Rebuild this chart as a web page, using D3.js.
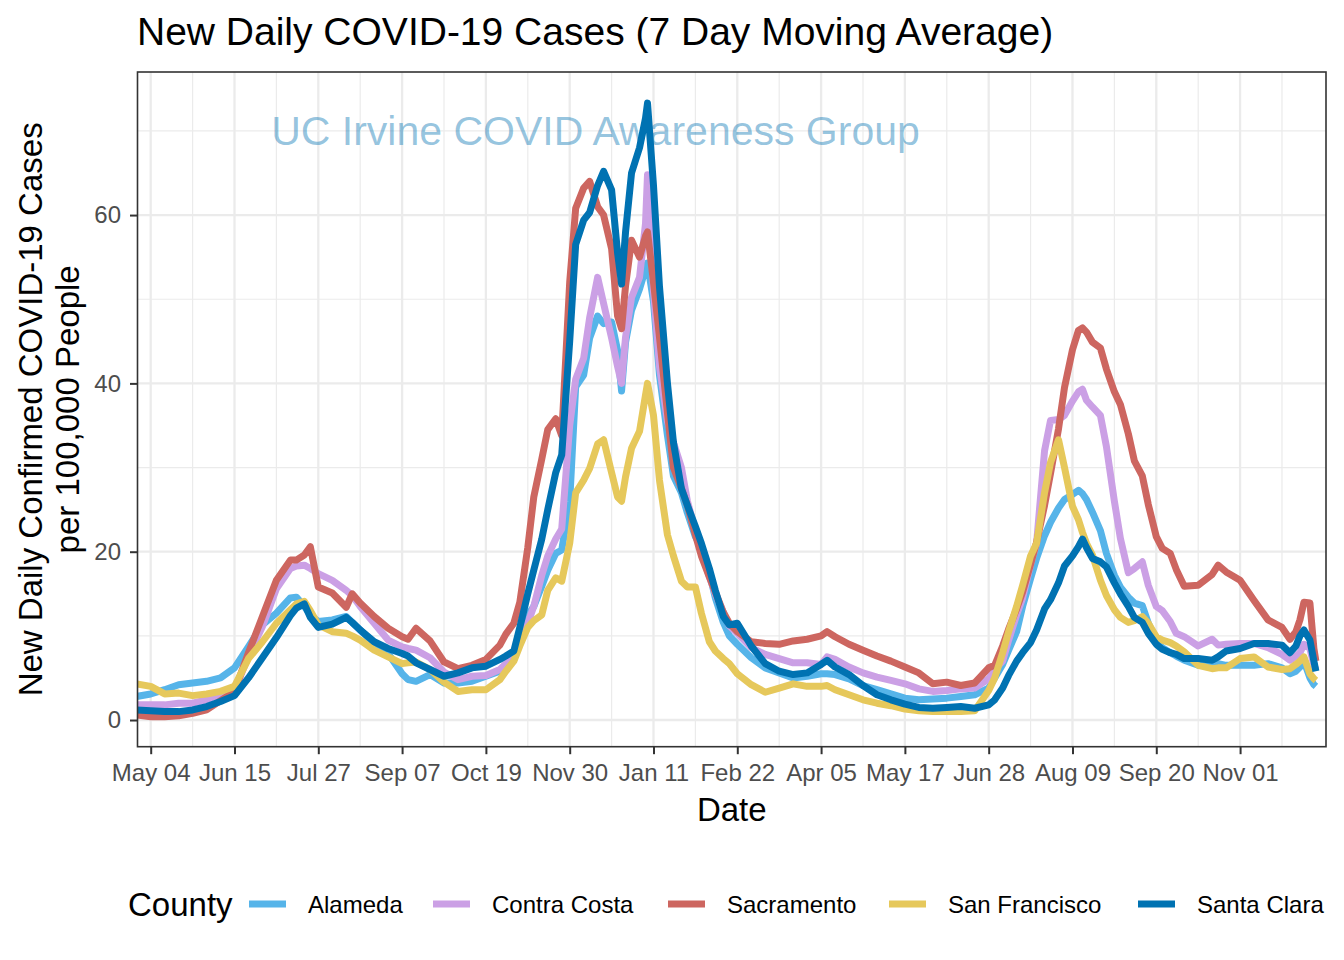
<!DOCTYPE html>
<html>
<head>
<meta charset="utf-8">
<script src="https://cdn.jsdelivr.net/npm/d3@7"></script>
<style>
  body { margin: 0; background: #ffffff; }
  svg { display: block; }
  text { font-family: "Liberation Sans", Arial, Helvetica, sans-serif; }
</style>
</head>
<body>
<svg id="chart" width="1344" height="960"></svg>
<script>
// ---------------- DATA ----------------
const dates = [
"2020-04-27","2020-05-04","2020-05-11","2020-05-18","2020-05-25","2020-06-01","2020-06-08","2020-06-15","2020-06-22","2020-06-29",
"2020-07-06","2020-07-13","2020-07-16","2020-07-20","2020-07-23","2020-07-27","2020-08-03","2020-08-10","2020-08-13","2020-08-17",
"2020-08-24","2020-08-31","2020-09-07","2020-09-10","2020-09-14","2020-09-21","2020-09-28","2020-10-05","2020-10-12","2020-10-19",
"2020-10-26","2020-10-29","2020-11-02","2020-11-05","2020-11-09","2020-11-12","2020-11-16","2020-11-19","2020-11-23","2020-11-26",
"2020-11-30","2020-12-03","2020-12-07","2020-12-10","2020-12-14","2020-12-17","2020-12-21","2020-12-24","2020-12-26","2020-12-28",
"2020-12-31","2021-01-04","2021-01-07","2021-01-08","2021-01-11","2021-01-14","2021-01-18","2021-01-21","2021-01-25","2021-01-28",
"2021-02-01","2021-02-04","2021-02-08","2021-02-11","2021-02-15","2021-02-18","2021-02-22","2021-03-01","2021-03-08","2021-03-15",
"2021-03-22","2021-03-29","2021-04-05","2021-04-08","2021-04-12","2021-04-19","2021-04-26","2021-05-03","2021-05-10","2021-05-17",
"2021-05-24","2021-05-31","2021-06-07","2021-06-14","2021-06-21","2021-06-28","2021-07-01","2021-07-05","2021-07-08","2021-07-12",
"2021-07-15","2021-07-19","2021-07-22","2021-07-26","2021-07-29","2021-08-02","2021-08-05","2021-08-09","2021-08-12","2021-08-14",
"2021-08-16","2021-08-19","2021-08-23","2021-08-26","2021-08-30","2021-09-02","2021-09-06","2021-09-09","2021-09-13","2021-09-16",
"2021-09-20","2021-09-23","2021-09-27","2021-09-30","2021-10-04","2021-10-11","2021-10-18","2021-10-21","2021-10-25","2021-11-01",
"2021-11-08","2021-11-15","2021-11-22","2021-11-26","2021-11-29","2021-12-01","2021-12-03","2021-12-06","2021-12-08","2021-12-09"
];

const counties = ["Alameda", "Contra Costa", "Sacramento", "San Francisco", "Santa Clara"];
const countyColors = ["#56B4E9", "#CBA0E5", "#CD6660", "#E6C85B", "#0072B2"];

const alameda = [
2.8, 3.1, 3.6, 4.2, 4.4, 4.6, 5.0, 6.2, 8.7, 11.3,
12.7, 14.5, 14.6, 13.5, 12.5, 11.7, 11.9, 12.3, 11.6, 10.7,
9.1, 7.9, 5.5, 4.8, 4.6, 5.4, 4.4, 4.4, 4.6, 5.2,
5.8, 6.4, 7.2, 9.6, 12.5, 13.5, 15.9, 17.8, 19.8, 20.2,
26.0, 39.6, 41.0, 45.4, 48.0, 47.1, 47.3, 43.9, 39.1, 44.9,
48.7, 51.2, 53.6, 54.3, 49.7, 41.0, 33.8, 29.0, 27.0, 24.6,
21.8, 20.5, 17.5, 14.5, 11.6, 10.0, 9.0, 7.4, 6.2, 5.6,
5.0, 5.2, 5.5, 5.5, 5.4, 4.9, 4.1, 3.6, 3.1, 2.6,
2.4, 2.5, 2.6, 2.8, 3.0, 3.8, 5.0, 6.6, 8.3, 10.5,
13.5, 16.8, 19.2, 21.9, 23.5, 25.2, 26.2, 26.8, 27.3, 26.9,
26.2, 24.7, 22.5, 19.8, 17.2, 15.8, 14.6, 13.9, 13.6, 11.5,
9.3, 8.6, 8.0, 7.6, 7.1, 6.5, 6.6, 6.7, 6.5, 6.5,
6.5, 6.7, 6.2, 5.5, 5.8, 6.3, 7.0, 5.0, 4.2, 4.0
];

const contraCosta = [
1.8, 1.8, 1.8, 2.0, 2.0, 2.4, 3.1, 3.4, 7.6, 11.1,
15.6, 18.0, 18.3, 18.4, 18.0, 17.4, 16.6, 15.4, 14.8, 13.5,
11.5, 9.5, 8.7, 8.5, 8.3, 7.4, 5.7, 4.8, 5.2, 5.3,
6.0, 6.7, 7.7, 9.5, 11.5, 13.5, 17.2, 19.5, 21.5, 22.7,
35.0, 40.5, 43.0, 47.8, 52.6, 49.5, 45.4, 42.0, 40.0, 45.5,
50.2, 52.6, 59.0, 64.8, 51.0, 42.0, 35.5, 33.0, 30.0, 26.0,
22.5, 20.0, 17.0, 15.0, 12.8, 11.2, 10.3, 8.6, 7.8, 7.3,
6.8, 6.8, 6.6, 7.5, 7.2, 6.3, 5.6, 5.1, 4.7, 4.3,
3.7, 3.4, 3.5, 3.7, 3.8, 4.9, 6.0, 7.0, 9.5, 12.5,
14.5, 18.5, 21.0, 32.0, 35.6, 35.7, 36.2, 37.9, 39.0, 39.3,
38.0, 37.2, 36.2, 32.5, 26.0, 21.6, 17.5, 18.0, 18.8, 16.0,
13.5, 13.0, 11.7, 10.3, 9.9, 8.8, 9.6, 8.9, 9.0, 9.1,
9.1, 8.6, 7.8, 7.1, 7.6, 8.0, 9.0, 8.5, 6.5, 6.0
];

const sacramento = [
0.6, 0.4, 0.4, 0.5, 0.8, 1.2, 2.3, 3.4, 8.0, 12.3,
16.6, 19.0, 19.0, 19.6, 20.6, 15.8, 15.1, 13.4, 15.0, 13.9,
12.3, 10.9, 9.9, 9.6, 10.9, 9.4, 6.9, 6.1, 6.5, 7.2,
8.9, 10.2, 11.5, 14.0, 20.5, 26.5, 31.0, 34.5, 35.8, 33.8,
52.0, 60.8, 63.2, 64.0, 61.0, 60.0, 56.0, 48.0, 46.5, 51.6,
57.0, 55.0, 57.5, 58.0, 52.0, 45.5, 36.5, 30.0, 27.5, 25.5,
22.0, 19.5, 17.0, 15.2, 12.8, 11.5, 10.5, 9.3, 9.1, 9.0,
9.4, 9.6, 10.0, 10.5, 9.9, 9.0, 8.3, 7.6, 7.0, 6.3,
5.6, 4.3, 4.5, 4.1, 4.4, 6.2, 6.5, 8.8, 10.8, 13.2,
15.2, 18.5, 21.1, 25.5, 29.3, 34.6, 39.5, 44.0, 46.3, 46.6,
46.1, 44.9, 44.2, 41.7, 39.0, 37.5, 34.0, 30.8, 29.0, 25.6,
21.8, 20.4, 19.8, 17.9, 15.9, 16.0, 17.3, 18.4, 17.6, 16.6,
14.2, 11.9, 11.0, 9.6, 10.5, 11.9, 14.0, 13.9, 8.5, 7.0
];

const sanFrancisco = [
4.3, 4.0, 3.1, 3.2, 2.9, 3.1, 3.4, 4.0, 7.3, 9.3,
11.5, 13.1, 13.8, 14.1, 13.0, 11.3, 10.5, 10.3, 10.0, 9.5,
8.3, 7.5, 6.7, 6.8, 6.9, 6.0, 4.5, 3.4, 3.6, 3.6,
4.8, 5.8, 7.0, 8.8, 11.0, 11.8, 12.5, 15.4, 16.9, 16.5,
21.0, 27.0, 28.5, 29.9, 32.8, 33.3, 29.4, 26.5, 26.0, 28.9,
32.3, 34.3, 38.6, 40.0, 36.2, 28.5, 22.0, 19.5, 16.5, 15.8,
15.8, 12.7, 9.3, 8.2, 7.3, 6.7, 5.5, 4.2, 3.3, 3.8,
4.3, 4.0, 4.0, 4.1, 3.6, 3.0, 2.4, 2.0, 1.7, 1.3,
1.1, 1.0, 1.0, 1.0, 1.1, 3.5, 5.0, 8.0, 10.5, 13.5,
16.0, 19.5, 21.0, 27.0, 30.6, 33.3, 30.0, 25.4, 23.8, 22.3,
21.0, 19.6, 16.6, 14.8, 13.1, 12.2, 11.6, 11.8, 12.3, 11.5,
9.9, 9.5, 9.2, 8.8, 8.1, 6.5, 6.1, 6.2, 6.2, 7.3,
7.5, 6.3, 6.0, 6.1, 6.6, 7.0, 7.5, 5.5, 4.9, 4.7
];

const santaClara = [
1.2, 1.1, 1.0, 1.0, 1.2, 1.6, 2.2, 2.9, 5.0, 7.4,
9.8, 12.4, 13.3, 13.8, 12.2, 11.0, 11.4, 12.2, 11.6, 10.7,
9.3, 8.5, 7.9, 7.6, 6.8, 6.0, 5.2, 5.6, 6.2, 6.4,
7.2, 7.6, 8.2, 11.0, 15.0, 17.8, 21.5, 25.0, 29.4, 31.5,
45.0, 56.5, 59.4, 60.3, 63.5, 65.2, 63.0, 55.5, 51.8, 58.0,
65.0, 68.0, 71.5, 73.3, 63.5, 51.5, 40.0, 33.0, 27.5, 25.5,
23.0, 21.0, 18.0, 15.4, 12.3, 11.3, 11.5, 8.8, 6.7, 5.8,
5.4, 5.6, 6.6, 7.1, 6.3, 5.4, 4.1, 3.0, 2.4, 1.9,
1.5, 1.4, 1.5, 1.6, 1.4, 1.8, 2.4, 3.8, 5.3, 7.0,
8.0, 9.2, 10.7, 13.2, 14.3, 16.3, 18.3, 19.5, 20.6, 21.5,
20.5, 19.2, 18.8, 18.2, 16.3, 15.0, 13.5, 12.2, 11.6, 10.3,
9.0, 8.4, 8.0, 7.8, 7.3, 7.3, 7.1, 7.5, 8.2, 8.5,
9.1, 9.1, 8.9, 8.0, 8.8, 10.0, 10.7, 9.5, 7.0, 5.8
];

const seriesValues = [alameda, contraCosta, sacramento, sanFrancisco, santaClara];

const xTickDates = ["2020-05-04","2020-06-15","2020-07-27","2020-09-07","2020-10-19","2020-11-30",
                    "2021-01-11","2021-02-22","2021-04-05","2021-05-17","2021-06-28","2021-08-09",
                    "2021-09-20","2021-11-01"];
const yTicks = [0, 20, 40, 60];
const yMinorTicks = [10, 30, 50, 70];

const titleText = "New Daily COVID-19 Cases (7 Day Moving Average)";
const yTitleLines = ["New Daily Confirmed COVID-19 Cases", "per 100,000 People"];
const xTitleText = "Date";
const watermarkText = "UC Irvine COVID Awareness Group";
const legendTitle = "County";

// ---------------- LAYOUT ----------------
const W = 1344, H = 960;
const panel = { left: 137.5, right: 1326, top: 72, bottom: 746.7 };

const parse = d3.utcParse("%Y-%m-%d");
const svg = d3.select("#chart");

svg.append("rect").attr("width", W).attr("height", H).attr("fill", "#ffffff");

const x = d3.scaleUtc()
  .domain([new Date(Date.UTC(2020, 3, 27, 9, 13)), new Date(Date.UTC(2021, 11, 14, 1, 30))])
  .range([panel.left, panel.right]);
const y = d3.scaleLinear()
  .domain([-3.17, 77.0])
  .range([panel.bottom, panel.top]);

// grid
const g = svg.append("g");
const majorDates = xTickDates.map(parse);
const minorDates = [];
for (let i = 0; i < majorDates.length - 1; i++) {
  minorDates.push(new Date((+majorDates[i] + +majorDates[i + 1]) / 2));
}
minorDates.push(new Date(+majorDates[majorDates.length - 1] + 21 * 864e5));

g.selectAll(".ygmin").data(yMinorTicks).join("line")
  .attr("x1", panel.left).attr("x2", panel.right)
  .attr("y1", d => y(d)).attr("y2", d => y(d))
  .attr("stroke", "#EBEBEB").attr("stroke-width", 1.2);
g.selectAll(".xgmin").data(minorDates).join("line")
  .attr("x1", d => x(d)).attr("x2", d => x(d))
  .attr("y1", panel.top).attr("y2", panel.bottom)
  .attr("stroke", "#EBEBEB").attr("stroke-width", 1.2);
g.selectAll(".ygmaj").data(yTicks).join("line")
  .attr("x1", panel.left).attr("x2", panel.right)
  .attr("y1", d => y(d)).attr("y2", d => y(d))
  .attr("stroke", "#EBEBEB").attr("stroke-width", 2.3);
g.selectAll(".xgmaj").data(majorDates).join("line")
  .attr("x1", d => x(d)).attr("x2", d => x(d))
  .attr("y1", panel.top).attr("y2", panel.bottom)
  .attr("stroke", "#EBEBEB").attr("stroke-width", 2.3);

// clip
svg.append("clipPath").attr("id", "panelClip")
  .append("rect").attr("x", panel.left).attr("y", panel.top)
  .attr("width", panel.right - panel.left).attr("height", panel.bottom - panel.top);

// watermark
svg.append("text")
  .attr("x", 595.5).attr("y", 145)
  .attr("text-anchor", "middle")
  .attr("font-size", 41)
  .attr("fill", "#0072B2").attr("fill-opacity", 0.42)
  .text(watermarkText);

// lines
const line = d3.line()
  .x(d => x(d.date))
  .y(d => y(d.v));

const lg = svg.append("g").attr("clip-path", "url(#panelClip)");
counties.forEach((c, i) => {
  const pts = dates.map((d, j) => ({ date: parse(d), v: seriesValues[i][j] }));
  lg.append("path")
    .datum(pts)
    .attr("d", line)
    .attr("fill", "none")
    .attr("stroke", countyColors[i])
    .attr("stroke-width", 7)
    .attr("stroke-linejoin", "round")
    .attr("stroke-linecap", "butt");
});

// panel border
svg.append("rect")
  .attr("x", panel.left).attr("y", panel.top)
  .attr("width", panel.right - panel.left).attr("height", panel.bottom - panel.top)
  .attr("fill", "none").attr("stroke", "#333333").attr("stroke-width", 1.6);

// axes
const xAxis = d3.axisBottom(x)
  .tickValues(majorDates)
  .tickFormat(d3.utcFormat("%b %d"))
  .tickSize(7.5).tickSizeOuter(0).tickPadding(9.8);
const xg = svg.append("g").attr("transform", `translate(0,${panel.bottom})`).call(xAxis);
xg.select(".domain").remove();
xg.selectAll(".tick line").attr("stroke", "#333333").attr("stroke-width", 2);
xg.selectAll(".tick text").attr("fill", "#4D4D4D").attr("font-size", 24)
  .attr("font-family", '"Liberation Sans", Arial, sans-serif');

const yAxis = d3.axisLeft(y)
  .tickValues(yTicks)
  .tickFormat(d3.format("d"))
  .tickSize(7.5).tickSizeOuter(0).tickPadding(9);
const yg = svg.append("g").attr("transform", `translate(${panel.left},0)`).call(yAxis);
yg.select(".domain").remove();
yg.selectAll(".tick line").attr("stroke", "#333333").attr("stroke-width", 2);
yg.selectAll(".tick text").attr("fill", "#4D4D4D").attr("font-size", 24)
  .attr("font-family", '"Liberation Sans", Arial, sans-serif');

// title
svg.append("text")
  .attr("x", 137).attr("y", 45)
  .attr("font-size", 39).attr("fill", "#000")
  .text(titleText);

// axis titles
svg.append("text")
  .attr("x", (panel.left + panel.right) / 2).attr("y", 821)
  .attr("text-anchor", "middle").attr("font-size", 33).attr("fill", "#000")
  .text(xTitleText);

const cy = (panel.top + panel.bottom) / 2;
yTitleLines.forEach((t, i) => {
  svg.append("text")
    .attr("transform", `translate(${42 + i * 37},${cy}) rotate(-90)`)
    .attr("text-anchor", "middle").attr("font-size", 33).attr("fill", "#000")
    .text(t);
});

// legend
const legend = svg.append("g");
legend.append("text").attr("x", 128).attr("y", 915.5)
  .attr("font-size", 33).attr("fill", "#000").text(legendTitle);
const keyX = [249, 433, 668, 889, 1138];
counties.forEach((c, i) => {
  legend.append("line")
    .attr("x1", keyX[i]).attr("x2", keyX[i] + 37)
    .attr("y1", 904).attr("y2", 904)
    .attr("stroke", countyColors[i]).attr("stroke-width", 7);
  legend.append("text")
    .attr("x", keyX[i] + 59).attr("y", 912.5)
    .attr("font-size", 24).attr("fill", "#000").text(c);
});
</script>
</body>
</html>
